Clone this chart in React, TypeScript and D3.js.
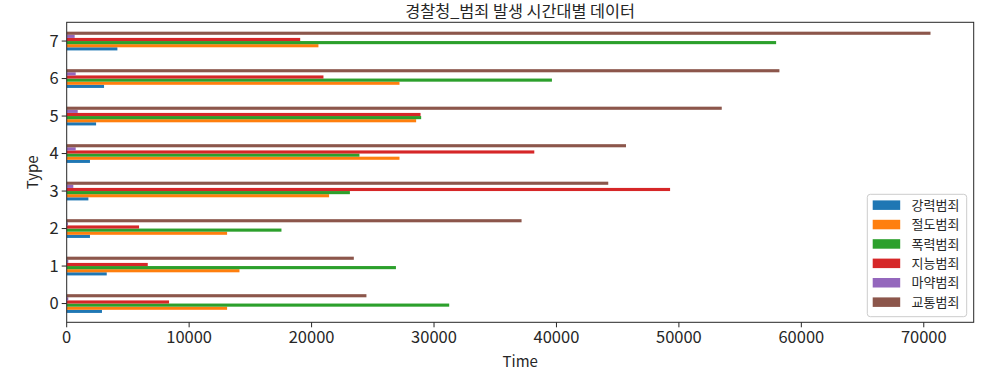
import React from "react";
import * as d3 from "d3";

const categories = [0, 1, 2, 3, 4, 5, 6, 7];
const seriesNames = ["강력범죄", "절도범죄", "폭력범죄", "지능범죄", "마약범죄", "교통범죄"];
const violent = [2880, 3270, 1900, 1770, 1900, 2400, 3050, 4140];
const theft = [13100, 14110, 13100, 21430, 27180, 28540, 27180, 20560];
const assault = [31240, 26890, 17540, 23130, 23910, 28950, 39630, 57940];
const fraud = [8360, 6620, 5910, 49280, 38190, 28900, 20970, 19070];
const drugs = [130, 130, 100, 540, 735, 900, 735, 650];
const traffic = [24480, 23450, 37150, 44230, 45680, 53500, 58210, 70550];
const xTicks = [0, 10000, 20000, 30000, 40000, 50000, 60000, 70000];
const colors = ["#1f77b4", "#ff7f0e", "#2ca02c", "#d62728", "#9467bd", "#8c564b"];
const title = "경찰청_범죄 발생 시간대별 데이터";
const xLabel = "Time";
const yLabel = "Type";

const series = [violent, theft, assault, fraud, drugs, traffic];

const W = 985;
const H = 378;
const L = 66.7;
const R = 973.7;
const T = 22.3;
const B = 322.3;
const FONT = "'Noto Sans CJK KR', 'Noto Sans', sans-serif";

export default function App() {
  const maxV = d3.max(series.flat()) as number;
  const x = d3.scaleLinear().domain([0, maxV * 1.05]).range([L, R]);
  const y = d3.scaleLinear().domain([-0.5, categories.length - 0.5]).range([B, T]);
  const n = series.length;
  const w = 0.5 / n;
  const legendX = 867.3;
  const legendY = 194.3;
  const rowH = 19.4;

  return (
    <svg
      width={W}
      height={H}
      style={{ position: "absolute", left: 0, top: 0, background: "#fff" }}
      fontFamily={FONT}
    >
      <rect x={0} y={0} width={W} height={H} fill="#fff" />
      {series.map((vals, si) =>
        vals.map((v, ci) => {
          const c = categories[ci] - 0.25 + si * w;
          const y0 = y(c);
          const y1 = y(c + w);
          return (
            <rect
              key={`${si}-${ci}`}
              x={x(0)}
              y={y1}
              width={x(v) - x(0)}
              height={y0 - y1}
              fill={colors[si]}
            />
          );
        })
      )}
      <rect x={L} y={T} width={R - L} height={B - T} fill="none" stroke="#262626" strokeWidth={1} />
      {xTicks.map((t) => (
        <g key={t}>
          <line x1={x(t)} x2={x(t)} y1={B} y2={B + 5} stroke="#262626" strokeWidth={1} />
          <text x={x(t)} y={B + 21} textAnchor="middle" fontSize={16.5} fill="#262626">
            {t}
          </text>
        </g>
      ))}
      {categories.map((c) => (
        <g key={c}>
          <line x1={L - 5} x2={L} y1={y(c)} y2={y(c)} stroke="#262626" strokeWidth={1} />
          <text x={L - 8} y={y(c)} dy="0.36em" textAnchor="end" fontSize={16.5} fill="#262626">
            {c}
          </text>
        </g>
      ))}
      <text x={(L + R) / 2} y={16.5} textAnchor="middle" fontSize={16.3} fill="#262626">
        {title}
      </text>
      <text x={(L + R) / 2} y={367} textAnchor="middle" fontSize={15} fill="#262626">
        {xLabel}
      </text>
      <text
        transform={`translate(38, ${(T + B) / 2}) rotate(-90)`}
        textAnchor="middle"
        fontSize={15}
        fill="#262626"
      >
        {yLabel}
      </text>
      <rect
        x={legendX}
        y={legendY}
        width={99.4}
        height={122.4}
        rx={3}
        fill="#fff"
        fillOpacity={0.8}
        stroke="#cccccc"
        strokeWidth={1}
      />
      {seriesNames.map((name, i) => {
        const cy = legendY + 10.8 + i * rowH;
        return (
          <g key={name}>
            <rect x={872.7} y={cy - 4.7} width={27.5} height={9.5} fill={colors[i]} />
            <text x={911.5} y={cy} dy="0.36em" fontSize={13} fill="#262626">
              {name}
            </text>
          </g>
        );
      })}
    </svg>
  );
}
